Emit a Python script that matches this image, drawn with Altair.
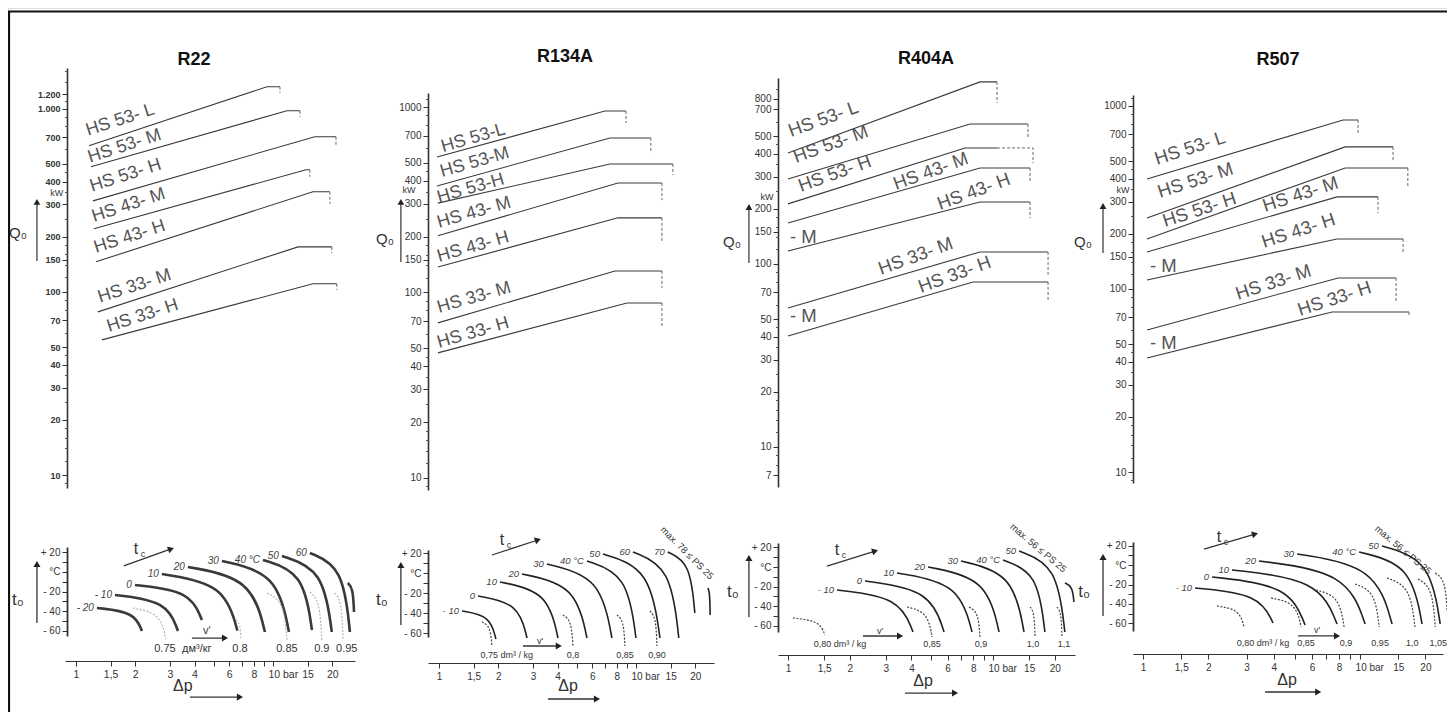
import altair as alt
import pandas as pd

FONT = "Liberation Sans, Arial, sans-serif"
NARROW = "Liberation Sans Narrow, Arial Narrow, Liberation Sans, sans-serif"

# ====================== R22 ======================
R22_TITLE = "R22"
R22_LABELS = ["HS 53- L", "HS 53- M", "HS 53- H", "HS 43- M", "HS 43- H", "HS 33- M", "HS 33- H"]
R22_LABEL_DP = [1.151, 1.178, 1.206, 1.234, 1.263, 1.324, 1.47]
R22_LABEL_Q = [711, 507, 352, 241, 163, 87.1, 60.4]
R22_DP_START = [1.164, 1.192, 1.22, 1.234, 1.263, 1.293, 1.355]
R22_Q_START = [628, 482, 314, 221, 146, 77.8, 54.7]
R22_DP_KNEE = [9.33, 11.78, 16.3, 14.71, 15.96, 13.4, 15.96]
R22_Q_KNEE = [1318, 975, 703, 464, 352, 176, 110.7]
R22_DP_FLAT = [10.86, 13.71, 20.9, 15.4, 19.46, 19.9, 21.1]
R22_DP_END = [10.86, 13.71, 20.9, 15.4, 19.46, 19.9, 21.1]
R22_Q_DROP = [1222, 904, 635, 425, 303, 163, 102.6]
R22_Q_TICKS = [10, 20, 30, 40, 50, 70, 100, 150, 200, 300, 400, 500, 700, 1000, 1200]
R22_ARC_LABELS = ["- 20", "- 10", "0", "10", "20", "30", "40 °C", "50", "60", ""]
R22_ARC_DP0 = [1.278, 1.578, 1.993, 2.73, 3.70, 5.51, 8.9, 11.1, 15.4, 24.0]
R22_ARC_T0 = [-36.9, -23.6, -13.3, -2.1, 5.1, 11.3, 12.3, 16.4, 19.5, -11.3]
R22_ARC_DP1 = [2.163, 3.295, 4.36, 6.6, 9.11, 12.06, 15.78, 19.9, 24.6, 25.8]
R22_ARC_T1 = [-60.5, -60.5, -49.2, -60.0, -61.5, -61.5, -59.5, -61.5, -61.5, -41.0]
R22_V_LABELS = ["0.75", "0.8", "0.85", "0.9", "0.95"]
R22_V_DP0 = [1.946, 6.49, 9.32, 15.4, 20.6]
R22_V_T0 = [-36.9, -49.2, -21.5, -20.5, -21.5]
R22_V_DP1 = [2.864, 6.88, 11.78, 17.7, 22.7]
R22_V_T1 = [-68.7, -69.7, -69.7, -69.7, -69.7]
R22_V_LABEL_DP = [2.83, 6.80, 11.78, 17.7, 23.7]
R22_V_LABEL_T = [-79, -79, -79, -79, -79]
R22_V_UNIT = ["дм³/кг", 4.11, -79]
R22_V_SYMBOL = [4.62, -60.5]
R22_V_ARROW = [3.88, 5.71, -67.7]
R22_TC_ARROW = [1.75, 6.2, 3.04, 23.6]
R22_TC_LABEL = [2.02, 23.6]
R22_DP_LABEL = [3.49, -117]
R22_DP_ARROW = [3.79, 6.80, -128.2]
R22_T0_LABEL = [0.508, -28.7]
R22_T0_ARROW = [0.634, -52.3, 8.2]
R22_Q0_LABEL = [0.508, 210]
R22_Q0_ARROW = [0.634, 147.6, 310]
R22_KW = [0.80, 347.6]
R22_TITLE_AT = [3.97, 1853]

# ====================== R134A ======================
R134A_TITLE = "R134A"
R134A_LABELS = ["HS 53-L", "HS 53-M", "HS 53-H", "HS 43- M", "HS 43- H", "HS 33- M", "HS 33- H"]
R134A_LABEL_DP = [1.048, 1.036, 1.0, 1.0, 1.0, 1.0, 1.0]
R134A_LABEL_Q = [571, 419, 304, 222.7, 146, 77.5, 50.2]
R134A_DP_START = [0.977, 0.977, 0.988, 0.988, 0.988, 0.988, 0.988]
R134A_Q_START = [537, 375, 303, 202, 137, 68.5, 47.2]
R134A_DP_KNEE = [6.96, 7.38, 7.38, 8.1, 8.1, 7.82, 9.0]
R134A_Q_KNEE = [951, 681, 493, 389, 252.5, 130.6, 87.7]
R134A_DP_FLAT = [8.9, 11.9, 15.4, 13.55, 13.55, 13.55, 13.55]
R134A_DP_END = [8.9, 11.9, 15.4, 13.55, 13.55, 13.55, 13.55]
R134A_Q_DROP = [820, 565, 430, 315, 185, 105.7, 64.4]
R134A_Q_TICKS = [10, 20, 30, 40, 50, 70, 100, 150, 200, 300, 400, 500, 700, 1000]
R134A_ARC_LABELS = ["- 10", "0", "10", "20", "30", "40 °C", "50", "60", "70", ""]
R134A_ARC_DP0 = [1.309, 1.578, 2.04, 2.64, 3.53, 5.64, 6.80, 9.66, 14.5, 23.2]
R134A_ARC_T0 = [-38, -23, -9, -1, 9, 12, 19, 21, 21, -15]
R134A_ARC_DP1 = [1.946, 2.80, 4.02, 5.64, 7.55, 10.0, 13.24, 16.5, 19.9, 23.8]
R134A_ARC_T1 = [-66, -65, -65, -65, -65, -65, -65, -65, -40, -42]
R134A_V_LABELS = ["0,75 dm³ / kg", "0,8", "0,85", "0,90"]
R134A_V_DP0 = [1.653, 4.26, 8.01, 11.78]
R134A_V_T0 = [-49, -42, -42, -38]
R134A_V_DP1 = [1.858, 4.79, 8.79, 12.79]
R134A_V_T1 = [-73, -73, -73, -73]
R134A_V_LABEL_DP = [2.21, 4.79, 8.79, 12.79]
R134A_V_LABEL_T = [-82, -82, -82, -82]
R134A_V_SYMBOL = [3.26, -68]
R134A_V_ARROW = [2.67, 4.06, -73]
R134A_TC_ARROW = [1.858, 18, 3.18, 33]
R134A_TC_LABEL = [2.09, 33]
R134A_DP_LABEL = [4.52, -113]
R134A_DP_ARROW = [3.58, 6.34, -126]
R134A_T0_LABEL = [0.514, -27]
R134A_T0_ARROW = [0.641, -52, 8]
R134A_Q0_LABEL = [0.532, 194]
R134A_Q0_ARROW = [0.641, 146, 308]
R134A_KW = [0.704, 357]
R134A_TITLE_AT = [4.36, 1862]
R134A_MAX = ["max. 78 ≤ PS 25", 18.15, 20]

# ====================== R404A ======================
R404A_TITLE = "R404A"
R404A_LABELS = ["HS 53- L", "HS 53- M", "HS 53- H", "HS 43- M", "HS 43- H", "- M", "HS 33- M", "HS 33- H", "- M"]
R404A_LABEL_DP = [1.034, 1.094, 1.157, 3.365, 5.51, 1.023, 2.84, 4.45, 1.023]
R404A_LABEL_Q = [494, 356, 247, 253.6, 197, 130, 87.1, 69.4, 48.2]
R404A_DP_START = [1.0, 1.0, 1.0, 1.0, 1.0, 1.0, 1.0]
R404A_Q_START = [404, 291, 213, 167.5, 117.8, 57.5, 40.4]
R404A_DP_KNEE = [8.64, 7.73, 7.30, 8.64, 8.64, 8.64, 7.99]
R404A_Q_KNEE = [988, 582, 430.5, 334.6, 218, 116.3, 79.7]
R404A_DP_FLAT = [10.46, 14.8, 10.46, 15.15, 15.15, 18.55, 18.55]
R404A_DP_END = [10.46, 14.8, 15.67, 15.15, 15.15, 18.55, 18.55]
R404A_Q_DROP = [759, 494, 356, 277, 178, 87.1, 61.9]
R404A_Q_TICKS = [7, 10, 20, 30, 40, 50, 70, 100, 150, 200, 300, 400, 500, 700, 800]
R404A_ARC_LABELS = ["- 10", "0", "10", "20", "30", "40 °C", "50", ""]
R404A_ARC_DP0 = [1.734, 2.375, 3.40, 4.82, 6.98, 11.19, 13.4, 22.4]
R404A_ARC_T0 = [-23.5, -14.3, -6.1, 0, 6.1, 7.1, 16.3, -16.3]
R404A_ARC_DP1 = [4.07, 5.77, 7.90, 10.7, 14.16, 17.9, 22.4, 24.8]
R404A_ARC_T1 = [-66.3, -66.3, -66.3, -66.3, -66.3, -66.3, -66.3, -35.7]
R404A_V_LABELS = ["0,80 dm³ / kg", "0,85", "0,9", "1,0", "1,1"]
R404A_V_DP0 = [1.058, 3.81, 7.64, 15.15, 20.5]
R404A_V_T0 = [-52, -40.8, -40.8, -40.8, -40.8]
R404A_V_DP1 = [1.515, 5.04, 8.64, 16.03, 21.7]
R404A_V_T1 = [-69.4, -71.4, -71.4, -71.4, -71.4]
R404A_V_LABEL_DP = [1.794, 5.04, 8.74, 15.67, 22.2]
R404A_V_LABEL_T = [-78.6, -78.6, -78.6, -78.6, -78.6]
R404A_V_SYMBOL = [2.81, -65.3]
R404A_V_ARROW = [2.32, 3.52, -70.4]
R404A_TC_ARROW = [1.55, 1.0, 2.66, 16.3]
R404A_TC_LABEL = [1.734, 17.3]
R404A_DP_LABEL = [4.56, -116.5]
R404A_DP_ARROW = [3.72, 6.53, -128.6]
R404A_T0_LABEL = [0.539, -25.5]
R404A_T0_ARROW = [0.645, -51, 9.2]
R404A_Q0_LABEL = [0.533, 131.8]
R404A_Q0_ARROW = [0.645, 101.3, 204.8]
R404A_KW = [0.79, 232]
R404A_TITLE_AT = [4.71, 1318]
R404A_MAX = ["max. 56 ≤ PS 25", 16.6, 19.4]

# ====================== R507 ======================
R507_TITLE = "R507"
R507_LABELS = ["HS 53- L", "HS 53- M", "HS 53- H", "HS 43- M", "HS 43- H", "- M", "HS 33- M", "HS 33- H", "- M"]
R507_LABEL_DP = [1.16, 1.198, 1.263, 3.65, 3.61, 1.077, 2.74, 5.29, 1.077]
R507_LABEL_Q = [476, 314, 218, 263.6, 167.5, 123.9, 87.1, 71.2, 47.0]
R507_DP_START = [1.043, 1.043, 1.043, 1.043, 1.043, 1.043, 1.043]
R507_Q_START = [399, 244.4, 187.5, 159, 112, 59.7, 42.0]
R507_DP_KNEE = [8.35, 8.53, 8.53, 7.83, 7.83, 7.92, 7.43]
R507_Q_KNEE = [838, 597, 458, 318.5, 187.5, 114.8, 74.8]
R507_DP_FLAT = [9.79, 14.19, 16.6, 12.1, 15.78, 14.65, 16.8]
R507_DP_END = [9.79, 14.19, 16.6, 12.1, 15.78, 14.65, 16.8]
R507_Q_DROP = [694, 507, 360.6, 260, 157, 83.8, 71.2]
R507_Q_TICKS = [10, 20, 30, 40, 50, 70, 100, 150, 200, 300, 400, 500, 700, 1000]
R507_ARC_LABELS = ["- 10", "0", "10", "20", "30", "40 °C", "50"]
R507_ARC_DP0 = [1.736, 2.08, 2.57, 3.42, 5.13, 9.9, 12.6]
R507_ARC_T0 = [-23.6, -12.3, -5.1, 4.1, 11.3, 13.3, 19.5]
R507_ARC_DP1 = [3.97, 5.58, 7.83, 10.55, 14.04, 19.3, 23.4]
R507_ARC_T1 = [-59.5, -61.5, -60.5, -60.5, -60.5, -60.5, -60.5]
R507_V_LABELS = ["0,80 dm³ / kg", "0,85", "0,9", "0,95", "1,0", "1,05", ""]
R507_V_DP0 = [2.19, 3.89, 6.27, 9.48, 13.3, 18.5, 22.2]
R507_V_T0 = [-42, -33.8, -25.6, -19.5, -13.3, -14.4, -8.2]
R507_V_DP1 = [2.92, 5.35, 8.44, 12.24, 17.9, 22.2, 25.2]
R507_V_T1 = [-63.6, -63.6, -63.6, -63.6, -63.6, -63.6, -48.2]
R507_V_LABEL_DP = [3.57, 5.64, 8.62, 12.37, 17.4, 22.9, 25.2]
R507_V_LABEL_T = [-80, -80, -80, -80, -80, -80, -80]
R507_V_SYMBOL = [6.34, -66.7]
R507_V_ARROW = [5.18, 7.83, -72.8]
R507_TC_ARROW = [1.91, 16.4, 3.28, 31.8]
R507_TC_LABEL = [2.24, 28.7]
R507_DP_LABEL = [4.61, -118]
R507_DP_ARROW = [3.65, 6.41, -130.3]
R507_T0_LABEL = [0.535, -27.7]
R507_T0_ARROW = [0.654, -52.3, 8.2]
R507_Q0_LABEL = [0.529, 180.7]
R507_Q0_ARROW = [0.654, 157.4, 284]
R507_KW = [0.809, 347.6]
R507_TITLE_AT = [4.19, 1782]
R507_MAX = ["max. 56 ≤ PS 25", 15.78, 15.4]

DP_TICKS = [1, 1.5, 2, 3, 4, 5, 6, 7, 8, 9, 10, 15, 20]
T_TICKS = [-60, -50, -40, -30, -20, -10, 0, 10, 20]
Q_MINOR = [7, 8, 9, 12, 14, 16, 18, 25, 35, 45, 60, 80, 90, 120, 140, 160, 180,
           250, 350, 450, 600, 800, 900, 1100, 1400, 1600]

# ---------- layout / style per panel (pixel geometry of each sub-plot) ----------
PANELS = [
    dict(key="R22", title=R22_TITLE, labels=R22_LABELS, ldp=R22_LABEL_DP, lq=R22_LABEL_Q,
         dp0=R22_DP_START, q0=R22_Q_START, dpk=R22_DP_KNEE, qk=R22_Q_KNEE, dpf=R22_DP_FLAT,
         dpe=R22_DP_END, qd=R22_Q_DROP, qt=R22_Q_TICKS,
         al=R22_ARC_LABELS, adp0=R22_ARC_DP0, at0=R22_ARC_T0, adp1=R22_ARC_DP1, at1=R22_ARC_T1,
         vl=R22_V_LABELS, vdp0=R22_V_DP0, vt0=R22_V_T0, vdp1=R22_V_DP1, vt1=R22_V_T1,
         vldp=R22_V_LABEL_DP, vlt=R22_V_LABEL_T, vunit=R22_V_UNIT, vsym=R22_V_SYMBOL,
         varrow=R22_V_ARROW, tca=R22_TC_ARROW, tcl=R22_TC_LABEL, dpl=R22_DP_LABEL,
         dpa=R22_DP_ARROW, t0l=R22_T0_LABEL, t0a=R22_T0_ARROW, q0l=R22_Q0_LABEL,
         q0a=R22_Q0_ARROW, kw=R22_KW, tat=R22_TITLE_AT, mx=None,
         dp_dom=[0.88, 26.1], dp_rng=[57, 347], q_dom=[8.5, 1668], q_rng=[480, 60],
         t_dom=[-65.6, 25.6], t_rng=[628, 539], q_off=-59, t_off=-59, dp_off=-51,
         ang=[342] * 7, lab_fs=18, arc_w=2.6, arc_c="#3a3a3a", dot_c="#b5b5b5",
         v_fs=11, arc_fs=10, tc_ang=340, qbold="bold", qfs=9, dp_fs=10.5,
         qexpr="datum.value == 1200 ? '1.200' : datum.value == 1000 ? '1.000' : toString(datum.value)"),
    dict(key="R134A", title=R134A_TITLE, labels=R134A_LABELS, ldp=R134A_LABEL_DP, lq=R134A_LABEL_Q,
         dp0=R134A_DP_START, q0=R134A_Q_START, dpk=R134A_DP_KNEE, qk=R134A_Q_KNEE, dpf=R134A_DP_FLAT,
         dpe=R134A_DP_END, qd=R134A_Q_DROP, qt=R134A_Q_TICKS,
         al=R134A_ARC_LABELS, adp0=R134A_ARC_DP0, at0=R134A_ARC_T0, adp1=R134A_ARC_DP1, at1=R134A_ARC_T1,
         vl=R134A_V_LABELS, vdp0=R134A_V_DP0, vt0=R134A_V_T0, vdp1=R134A_V_DP1, vt1=R134A_V_T1,
         vldp=R134A_V_LABEL_DP, vlt=R134A_V_LABEL_T, vunit=None, vsym=R134A_V_SYMBOL,
         varrow=R134A_V_ARROW, tca=R134A_TC_ARROW, tcl=R134A_TC_LABEL, dpl=R134A_DP_LABEL,
         dpa=R134A_DP_ARROW, t0l=R134A_T0_LABEL, t0a=R134A_T0_ARROW, q0l=R134A_Q0_LABEL,
         q0a=R134A_Q0_ARROW, kw=R134A_KW, tat=R134A_TITLE_AT, mx=R134A_MAX, mx_ang=45,
         dp_dom=[0.88, 24.9], dp_rng=[420, 706], q_dom=[8.6, 1190], q_rng=[482, 85],
         t_dom=[-64, 23], t_rng=[629, 542], q_off=-420, t_off=-420, dp_off=-49,
         ang=[344] * 7, lab_fs=18, arc_w=1.6, arc_c="#222", dot_c="#444",
         v_fs=9, arc_fs=9.5, tc_ang=342, qbold="normal", qfs=10, dp_fs=10,
         qexpr="toString(datum.value)"),
    dict(key="R404A", title=R404A_TITLE, labels=R404A_LABELS, ldp=R404A_LABEL_DP, lq=R404A_LABEL_Q,
         dp0=R404A_DP_START, q0=R404A_Q_START, dpk=R404A_DP_KNEE, qk=R404A_Q_KNEE, dpf=R404A_DP_FLAT,
         dpe=R404A_DP_END, qd=R404A_Q_DROP, qt=R404A_Q_TICKS,
         al=R404A_ARC_LABELS, adp0=R404A_ARC_DP0, at0=R404A_ARC_T0, adp1=R404A_ARC_DP1, at1=R404A_ARC_T1,
         vl=R404A_V_LABELS, vdp0=R404A_V_DP0, vt0=R404A_V_T0, vdp1=R404A_V_DP1, vt1=R404A_V_T1,
         vldp=R404A_V_LABEL_DP, vlt=R404A_V_LABEL_T, vunit=None, vsym=R404A_V_SYMBOL,
         varrow=R404A_V_ARROW, tca=R404A_TC_ARROW, tcl=R404A_TC_LABEL, dpl=R404A_DP_LABEL,
         dpa=R404A_DP_ARROW, t0l=R404A_T0_LABEL, t0a=R404A_T0_ARROW, q0l=R404A_Q0_LABEL,
         q0a=R404A_Q0_ARROW, kw=R404A_KW, tat=R404A_TITLE_AT, mx=R404A_MAX, mx_ang=40,
         dp_dom=[0.894, 25.1], dp_rng=[770, 1067], q_dom=[6.04, 1038], q_rng=[479, 70],
         t_dom=[-66.3, 24.5], t_rng=[624, 535], q_off=-770, t_off=-770, dp_off=-57,
         ang=[340, 340, 340, 340, 340, 0, 340, 340, 0], lab_fs=18.5, arc_w=1.6, arc_c="#222",
         dot_c="#444", v_fs=9, arc_fs=9.5, tc_ang=343, qbold="normal", qfs=10, dp_fs=10,
         qexpr="toString(datum.value)"),
    dict(key="R507", title=R507_TITLE, labels=R507_LABELS, ldp=R507_LABEL_DP, lq=R507_LABEL_Q,
         dp0=R507_DP_START, q0=R507_Q_START, dpk=R507_DP_KNEE, qk=R507_Q_KNEE, dpf=R507_DP_FLAT,
         dpe=R507_DP_END, qd=R507_Q_DROP, qt=R507_Q_TICKS,
         al=R507_ARC_LABELS, adp0=R507_ARC_DP0, at0=R507_ARC_T0, adp1=R507_ARC_DP1, at1=R507_ARC_T1,
         vl=R507_V_LABELS, vdp0=R507_V_DP0, vt0=R507_V_T0, vdp1=R507_V_DP1, vt1=R507_V_T1,
         vldp=R507_V_LABEL_DP, vlt=R507_V_LABEL_T, vunit=None, vsym=R507_V_SYMBOL,
         varrow=R507_V_ARROW, tca=R507_TC_ARROW, tcl=R507_TC_LABEL, dpl=R507_DP_LABEL,
         dpa=R507_DP_ARROW, t0l=R507_T0_LABEL, t0a=R507_T0_ARROW, q0l=R507_Q0_LABEL,
         q0a=R507_Q0_ARROW, kw=R507_KW, tat=R507_TITLE_AT, mx=R507_MAX, mx_ang=40,
         dp_dom=[0.899, 24.1], dp_rng=[1125, 1435], q_dom=[8.71, 1147], q_rng=[475, 87],
         t_dom=[-67.7, 23.6], t_rng=[623, 534], q_off=-1125, t_off=-1125, dp_off=-58,
         ang=[342, 342, 342, 342, 342, 0, 342, 342, 0], lab_fs=18.5, arc_w=1.6, arc_c="#222",
         dot_c="#444", v_fs=9, arc_fs=9.5, tc_ang=344, qbold="normal", qfs=10, dp_fs=10,
         qexpr="toString(datum.value)"),
]

AXS = dict(grid=False, title=None, labelFont=FONT, labelColor="#333", domainColor="#333",
           tickColor="#333", labelOverlap=False, labelFlush=False)


def build(P):
    sx = alt.Scale(type="log", domain=P["dp_dom"], range=P["dp_rng"], nice=False)
    sq = alt.Scale(type="log", domain=P["q_dom"], range=P["q_rng"], nice=False)
    st = alt.Scale(type="linear", domain=P["t_dom"], range=P["t_rng"], nice=False, zero=False)

    def X(f, axis=None):
        return alt.X(f"{f}:Q", scale=sx, axis=axis)

    def YQ(f, axis=None):
        return alt.Y(f"{f}:Q", scale=sq, axis=axis)

    def YT(f, axis=None):
        return alt.Y(f"{f}:Q", scale=st, axis=axis)

    L = []
    n = len(P["dp0"])
    solid, dash = [], []
    for i in range(n):
        solid += [dict(id=i, o=0, dp=P["dp0"][i], q=P["q0"][i]),
                  dict(id=i, o=1, dp=P["dpk"][i], q=P["qk"][i]),
                  dict(id=i, o=2, dp=P["dpf"][i], q=P["qk"][i])]
        dash += [dict(id=i, o=0, dp=P["dpf"][i], q=P["qk"][i]),
                 dict(id=i, o=1, dp=P["dpe"][i], q=P["qk"][i]),
                 dict(id=i, o=2, dp=P["dpe"][i], q=P["qd"][i])]
    q_axis = alt.Axis(orient="left", offset=P["q_off"], values=P["qt"], labelExpr=P["qexpr"],
                      tickSize=5, labelFontSize=P["qfs"], labelFontWeight=P["qbold"],
                      labelPadding=2, domainWidth=1.6, **AXS)
    qmin = [v for v in Q_MINOR if P["q_dom"][0] <= v <= P["q_dom"][1] and v not in P["qt"]]
    q_minor = alt.Axis(orient="left", offset=P["q_off"], values=qmin, labels=False, domain=False,
                       tickSize=2.5, grid=False, title=None, tickColor="#555")
    L.append(alt.Chart(pd.DataFrame(solid)).mark_line(color="#3a3a3a", strokeWidth=1.1).encode(
        x=X("dp"), y=YQ("q", q_axis), detail="id:N", order="o:Q"))
    L.append(alt.Chart(pd.DataFrame(dash)).mark_line(color="#666", strokeWidth=1, strokeDash=[3, 2]).encode(
        x=X("dp"), y=YQ("q", q_minor), detail="id:N", order="o:Q"))
    lab = pd.DataFrame(dict(dp=P["ldp"], q=P["lq"], text=P["labels"], ang=P["ang"]))
    L.append(alt.Chart(lab).mark_text(font=NARROW, fontSize=P["lab_fs"], color="#555", align="left",
                                      baseline="alphabetic").encode(
        x=X("dp"), y=YQ("q"), text="text:N", angle=alt.Angle("ang:Q", scale=None)))
    ttl = pd.DataFrame(dict(dp=[P["tat"][0]], q=[P["tat"][1]], text=[P["title"]]))
    L.append(alt.Chart(ttl).mark_text(font=FONT, fontSize=18, fontWeight="bold", color="#111",
                                      baseline="middle").encode(x=X("dp"), y=YQ("q"), text="text:N"))
    qtxt = pd.DataFrame(dict(dp=[P["q0l"][0], P["kw"][0]], q=[P["q0l"][1], P["kw"][1]],
                             text=["Q₀", "kW"], size=[15, 9]))
    L.append(alt.Chart(qtxt).mark_text(font=FONT, color="#333", baseline="middle").encode(
        x=X("dp"), y=YQ("q"), text="text:N", size=alt.Size("size:Q", scale=None)))
    qa = P["q0a"]
    L.append(alt.Chart(pd.DataFrame(dict(x=[qa[0]], y0=[qa[1]], y1=[qa[2]]))).mark_rule(
        color="#333", strokeWidth=1.2).encode(x=X("x"), y=YQ("y0"), y2="y1:Q"))
    L.append(alt.Chart(pd.DataFrame(dict(x=[qa[0]], y=[qa[2]]))).mark_point(
        shape="triangle-up", filled=True, color="#222", opacity=1, size=45).encode(x=X("x"), y=YQ("y")))

    # ---------- lower nomogram ----------
    arcs = []
    for j in range(len(P["adp0"])):
        arcs += [dict(id=j, o=0, dp=P["adp0"][j], t=P["at0"][j]),
                 dict(id=j, o=1, dp=P["adp1"][j], t=P["at0"][j]),
                 dict(id=j, o=2, dp=P["adp1"][j], t=P["at1"][j])]
    t_axis = alt.Axis(orient="left", offset=P["t_off"], values=T_TICKS,
                      labelExpr="datum.value == 0 ? '°C' : datum.value == 20 ? '+ 20' : "
                                "(datum.value < 0 && datum.value % 20 == 0) ? '- ' + abs(datum.value) : ''",
                      tickSize=5, labelFontSize=10, labelPadding=2, domainWidth=1.8, **AXS)
    dp_axis = alt.Axis(orient="bottom", offset=P["dp_off"], values=DP_TICKS,
                       labelExpr="datum.value == 10 ? '10 bar' : (datum.value == 5 || datum.value == 7 || "
                                 "datum.value == 9) ? '' : replace(toString(datum.value), '.', ',')",
                       labelAlign={"condition": {"test": "datum.value == 10", "value": "left"},
                                   "value": "center"},
                       labelOffset={"condition": {"test": "datum.value == 10", "value": -5},
                                    "value": 0},
                       tickSize=5, labelFontSize=P["dp_fs"], labelPadding=3, domainWidth=1, **AXS)
    L.append(alt.Chart(pd.DataFrame(arcs)).mark_line(
        color=P["arc_c"], strokeWidth=P["arc_w"], interpolate="bundle", tension=0.65,
        strokeCap="butt").encode(x=X("dp", dp_axis), y=YT("t", t_axis), detail="id:N", order="o:Q"))
    vls = []
    for j in range(len(P["vdp0"])):
        vls += [dict(id=j, o=0, dp=P["vdp0"][j], t=P["vt0"][j]),
                dict(id=j, o=1, dp=P["vdp1"][j], t=P["vt0"][j]),
                dict(id=j, o=2, dp=P["vdp1"][j], t=P["vt1"][j])]
    L.append(alt.Chart(pd.DataFrame(vls)).mark_line(
        color=P["dot_c"], strokeWidth=1.2, strokeDash=[2, 1.5], interpolate="bundle",
        tension=0.65).encode(x=X("dp"), y=YT("t"), detail="id:N", order="o:Q"))
    alab = pd.DataFrame(dict(dp=P["adp0"], t=P["at0"], text=P["al"]))
    alab = alab[alab.text != ""]
    L.append(alt.Chart(alab).mark_text(font=FONT, fontSize=P["arc_fs"], fontStyle="italic", color="#444",
                                       align="right", baseline="middle", dx=-3).encode(
        x=X("dp"), y=YT("t"), text="text:N"))
    vt = dict(dp=list(P["vldp"]) + [P["vsym"][0]], t=list(P["vlt"]) + [P["vsym"][1]],
              text=list(P["vl"]) + ["v'"])
    if P["vunit"]:
        vt["text"].append(P["vunit"][0])
        vt["dp"].append(P["vunit"][1])
        vt["t"].append(P["vunit"][2])
    L.append(alt.Chart(pd.DataFrame(vt)).mark_text(font=FONT, fontSize=P["v_fs"], color="#333",
                                                   baseline="middle").encode(
        x=X("dp"), y=YT("t"), text="text:N"))
    tca, va, da, ta = P["tca"], P["varrow"], P["dpa"], P["t0a"]
    arr = pd.DataFrame(dict(x0=[tca[0], va[0], da[0], ta[0]], x1=[tca[2], va[1], da[1], ta[0]],
                            y0=[tca[1], va[2], da[2], ta[1]], y1=[tca[3], va[2], da[2], ta[2]]))
    L.append(alt.Chart(arr).mark_rule(color="#333", strokeWidth=1.3).encode(
        x=X("x0"), x2="x1:Q", y=YT("y0"), y2="y1:Q"))
    heads = pd.DataFrame(dict(x=[tca[2], va[1], da[1], ta[0]], y=[tca[3], va[2], da[2], ta[2]],
                              shape=["triangle-right", "triangle-right", "triangle-right", "triangle-up"],
                              ang=[P["tc_ang"], 0, 0, 0]))
    L.append(alt.Chart(heads).mark_point(filled=True, color="#222", opacity=1, size=50).encode(
        x=X("x"), y=YT("y"), shape=alt.Shape("shape:N", scale=None), angle=alt.Angle("ang:Q", scale=None)))
    big = pd.DataFrame(dict(dp=[P["dpl"][0], P["t0l"][0], P["tcl"][0]],
                            t=[P["dpl"][1], P["t0l"][1], P["tcl"][1]],
                            text=["Δp", "t₀", "t"], size=[16, 17, 16]))
    L.append(alt.Chart(big).mark_text(font=FONT, color="#333", baseline="middle").encode(
        x=X("dp"), y=YT("t"), text="text:N", size=alt.Size("size:Q", scale=None)))
    L.append(alt.Chart(pd.DataFrame(dict(dp=[P["tcl"][0]], t=[P["tcl"][1]], text=["c"]))).mark_text(
        font=FONT, fontSize=9, color="#333", baseline="middle", dx=7, dy=5).encode(
        x=X("dp"), y=YT("t"), text="text:N"))
    if P["mx"]:
        mx = pd.DataFrame(dict(dp=[P["mx"][1]], t=[P["mx"][2]], text=[P["mx"][0]]))
        L.append(alt.Chart(mx).mark_text(font=FONT, fontSize=9.5, color="#333", baseline="middle",
                                          angle=P["mx_ang"]).encode(x=X("dp"), y=YT("t"), text="text:N"))
    return L


layers = []
for P in PANELS:
    layers += build(P)

frame = pd.DataFrame(dict(a=[0]))
layers.append(alt.Chart(frame).mark_rule(color="#111", strokeWidth=2.2).encode(
    x=alt.value(1), y=alt.value(3), y2=alt.value(704)))
layers.append(alt.Chart(frame).mark_rule(color="#111", strokeWidth=2.2).encode(
    x=alt.value(0), x2=alt.value(1439), y=alt.value(3.5)))

chart = alt.layer(*layers).resolve_scale(x="independent", y="independent").resolve_axis(
    x="independent", y="independent").properties(
    width=1439, height=704, padding=0, autosize=alt.AutoSizeParams(type="none")
).configure_view(stroke=None).configure(background="white")

chart.save("out.html", embed_options={"renderer": "svg", "actions": False})
